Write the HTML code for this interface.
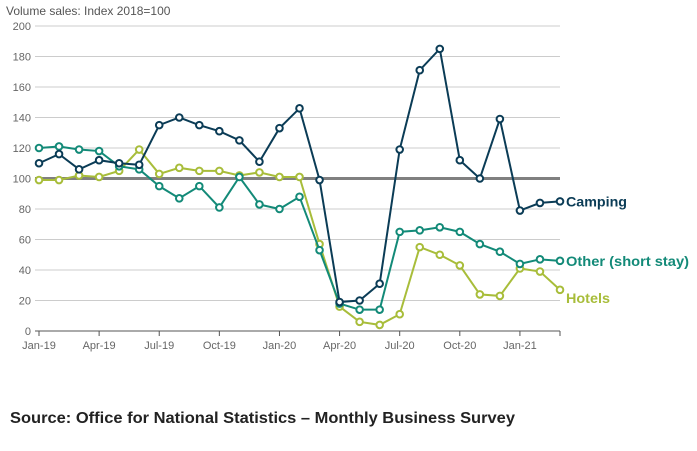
<!DOCTYPE html>
<html><head><meta charset="utf-8"><style>
body{margin:0;background:#fff;font-family:"Liberation Sans",sans-serif}
svg{display:block}
</style></head><body>
<svg width="697" height="451" id="c">
<text x="6" y="15" font-size="12" fill="#555">Volume sales: Index 2018=100</text>
<g id="grid"></g><g id="series"></g>
<text x="10" y="423" font-size="16" font-weight="bold" fill="#222" textLength="505" lengthAdjust="spacingAndGlyphs">Source: Office for National Statistics – Monthly Business Survey</text>
</svg>
<script>
const months=["Jan-19","Feb-19","Mar-19","Apr-19","May-19","Jun-19","Jul-19","Aug-19","Sep-19","Oct-19","Nov-19","Dec-19","Jan-20","Feb-20","Mar-20","Apr-20","May-20","Jun-20","Jul-20","Aug-20","Sep-20","Oct-20","Nov-20","Dec-20","Jan-21","Feb-21","Mar-21"];
const camping=[110,116,106,112,110,109,135,140,135,131,125,111,133,146,99,19,20,31,119,171,185,112,100,139,79,84,85];
const other=[120,121,119,118,108,106,95,87,95,81,101,83,80,88,53,18,14,14,65,66,68,65,57,52,44,47,46];
const hotels=[99,99,102,101,105,119,103,107,105,105,102,104,101,101,57,16,6,4,11,55,50,43,24,23,41,39,27];
const yTicks=[0,20,40,60,80,100,120,140,160,180,200];
const xTickLabels=["Jan-19","Apr-19","Jul-19","Oct-19","Jan-20","Apr-20","Jul-20","Oct-20","Jan-21"];
const ns="http://www.w3.org/2000/svg";
const x0=39,x1=560,y0=331,y1=26;
const X=i=>x0+(x1-x0)*i/(months.length-1);
const Y=v=>y0-(y0-y1)*v/200;
function mk(t,a,p){const e=document.createElementNS(ns,t);for(const k in a)e.setAttribute(k,a[k]);p.appendChild(e);return e;}
const g=document.getElementById('grid');
yTicks.forEach(v=>{
 const l=mk('line',{x1:x0-4,x2:x1,y1:Y(v),y2:Y(v),stroke:'#ccc','stroke-width':1},g);
 
 
 const t=mk('text',{x:31,y:Y(v)+4,'text-anchor':'end','font-size':11,fill:'#666'},g);t.textContent=v;
 
 
});
const ax=mk('line',{x1:x0-4,x2:x1,y1:y0,y2:y0,stroke:'#555','stroke-width':1},g);


const ref=mk('line',{x1:x0-4,x2:x1,y1:Y(100),y2:Y(100),stroke:'#808080','stroke-width':3},g);


xTickLabels.forEach(lab=>{
 const i=months.indexOf(lab);
 mk('line',{x1:X(i),x2:X(i),y1:y0,y2:y0+5,stroke:'#555'},g);
 const t=mk('text',{x:X(i),y:y0+18,'text-anchor':'middle','font-size':11,fill:'#666'},g);t.textContent=lab;
 
 
});
mk('line',{x1:x1,x2:x1,y1:y0,y2:y0+5,stroke:'#555'},g);
const s=document.getElementById('series');
[[hotels,'#a8bd3a','Hotels','hotels',44],[other,'#138a78','Other (short stay)','other',123],[camping,'#0b3c56','Camping','camping',61]].forEach(([d,c,name,key,w])=>{
 const p=mk('polyline',{points:d.map((v,i)=>X(i)+','+Y(v)).join(' '),fill:'none',stroke:c,'stroke-width':2},s);
 
 
 d.forEach((v,i)=>{const m=mk('circle',{cx:X(i),cy:Y(v),r:3.3,fill:'#fff',stroke:c,'stroke-width':2},s);
  
  });
 const last=d[d.length-1];
 const ly=key==='hotels'?Y(last)+13:Y(last)+5;
 const t=mk('text',{x:566,y:ly,'font-size':14,'font-weight':'bold',fill:c,textLength:w,lengthAdjust:'spacingAndGlyphs'},s);t.textContent=name;
 
 
});
</script>
</body></html>
